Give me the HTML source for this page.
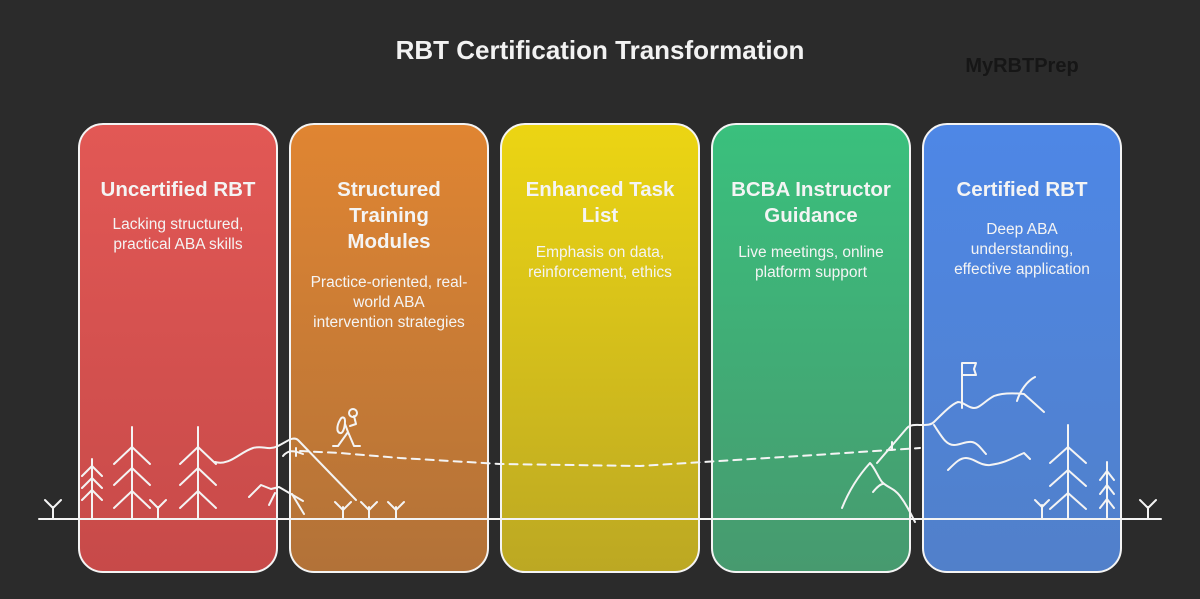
<!DOCTYPE html>
<html><head><meta charset="utf-8"><style>
html,body{margin:0;padding:0;background:#2b2b2b;}
svg{display:block;font-family:"Liberation Sans",Arial,sans-serif;}
</style></head><body>
<svg width="1200" height="599" viewBox="0 0 1200 599" xmlns="http://www.w3.org/2000/svg">
<defs>
<linearGradient id="g1" x1="0" y1="0" x2="0" y2="1"><stop offset="0" stop-color="#e25855"/><stop offset="1" stop-color="#c74a49"/></linearGradient>
<linearGradient id="g2" x1="0" y1="0" x2="0" y2="1"><stop offset="0" stop-color="#e08532"/><stop offset="1" stop-color="#b27238"/></linearGradient>
<linearGradient id="g3" x1="0" y1="0" x2="0" y2="1"><stop offset="0" stop-color="#ecd513"/><stop offset="1" stop-color="#bca823"/></linearGradient>
<linearGradient id="g4" x1="0" y1="0" x2="0" y2="1"><stop offset="0" stop-color="#3ac07d"/><stop offset="1" stop-color="#479a6f"/></linearGradient>
<linearGradient id="g5" x1="0" y1="0" x2="0" y2="1"><stop offset="0" stop-color="#4e87e6"/><stop offset="1" stop-color="#5180ca"/></linearGradient>
</defs>
<rect width="1200" height="599" fill="#2b2b2b"/>
<text x="600" y="59" text-anchor="middle" font-size="26" font-weight="bold" fill="#f2f2f2">RBT Certification Transformation</text>
<text x="1022" y="72" text-anchor="middle" font-size="20" font-weight="bold" fill="#161616">MyRBTPrep</text>

<g stroke="#f4f4f4" stroke-width="2">
<rect x="79" y="124" width="198" height="448" rx="24" fill="url(#g1)"/>
<rect x="290" y="124" width="198" height="448" rx="24" fill="url(#g2)"/>
<rect x="501" y="124" width="198" height="448" rx="24" fill="url(#g3)"/>
<rect x="712" y="124" width="198" height="448" rx="24" fill="url(#g4)"/>
<rect x="923" y="124" width="198" height="448" rx="24" fill="url(#g5)"/>
</g>

<g fill="#f4f4f4" text-anchor="middle">
<g font-size="20.5" font-weight="bold">
<text x="178" y="196">Uncertified RBT</text>
<text x="389" y="196">Structured</text><text x="389" y="222">Training</text><text x="389" y="248">Modules</text>
<text x="600" y="196">Enhanced Task</text><text x="600" y="222">List</text>
<text x="811" y="196">BCBA Instructor</text><text x="811" y="222">Guidance</text>
<text x="1022" y="196">Certified RBT</text>
</g>
<g font-size="15.5">
<text x="178" y="229">Lacking structured,</text><text x="178" y="249">practical ABA skills</text>
<text x="389" y="287">Practice-oriented, real-</text><text x="389" y="307">world ABA</text><text x="389" y="327">intervention strategies</text>
<text x="600" y="257">Emphasis on data,</text><text x="600" y="277">reinforcement, ethics</text>
<text x="811" y="257">Live meetings, online</text><text x="811" y="277">platform support</text>
<text x="1022" y="234">Deep ABA</text><text x="1022" y="254">understanding,</text><text x="1022" y="274">effective application</text>
</g>
</g>

<g stroke="#f4f4f4" stroke-width="2" fill="none" stroke-linecap="round" stroke-linejoin="round">
<line x1="39" y1="519" x2="1161" y2="519"/>
<path d="M53 519v-12M45 500l8 8l8-8"/>
<path d="M158 519v-12M150 500l8 8l8-8"/>
<path d="M343 519v-12M335 502l8 8l8-8"/>
<path d="M369 519v-12M361 502l8 8l8-8"/>
<path d="M396 519v-12M388 502l8 8l8-8"/>
<path d="M1042 519v-14M1035 500l7 7l7-7"/>
<path d="M1148 519v-12M1140 500l8 8l8-8"/>
<path d="M92 519v-60M82 476l10-10l10 10M82 488l10-10l10 10M82 500l10-10l10 10"/>
<path d="M132 519v-92M114 464l18-17l18 17M114 485l18-17l18 17M114 508l18-17l18 17"/>
<path d="M198 519v-92M180 464l18-17l18 17M180 485l18-17l18 17M180 508l18-17l18 17"/>
<path d="M215 462c15 4 25-10 38-14c10-3 15 3 25-2c10-5 15-10 20-6l58 60"/>
<path d="M283 456c5-6 10-6 20-2"/>
<path d="M249 497l12-12l10 4l8-2l24 14"/>
<path d="M269 505l6-12"/>
<path d="M292 494l12 20"/>
<path d="M296 448v8"/>
<circle cx="353" cy="413" r="4"/>
<path d="M345 424l3 8l-10 14h-5M348 432l6 14h6M350 426l6-2l-2-8"/>
<path d="M340 420c-3 5-4 12 0 13c3 1 5-6 5-12c0-4-3-5-5-1z"/>
<path d="M300 451l40 2l60 5l100 6l140 2l160-10l120-8" stroke-dasharray="8 6"/>
<path d="M842 508c8-20 18-34 28-45c5 5 8 14 12 19c6 6 12 6 18 14c6 8 10 16 15 26"/>
<path d="M873 492c4-5 8-8 10-8"/>
<path d="M877 463l30-35c4-4 10-3 15-3c5 0 9 0 12-3c10-10 18-18 24-20c6 0 10 6 16 6c6 0 12-8 20-12c8-3 20-3 30-2l20 18"/>
<path d="M1017 401c3-10 10-20 18-24"/>
<path d="M934 425c8 12 12 20 20 20c6 0 12-4 18-3c6 1 10 8 14 12"/>
<path d="M948 470c8-8 12-12 18-12c8 0 14 8 24 7c16-2 24-8 34-12l6 6"/>
<path d="M962 408v-45h14l-2 6l2 6h-14"/>
<path d="M892 442v8"/>
<path d="M1068 519v-94M1050 463l18-16l18 16M1050 486l18-16l18 16M1050 509l18-16l18 16"/>
<path d="M1107 519v-57M1100 480l7-9l7 9M1100 494l7-9l7 9M1100 508l7-9l7 9"/>
</g>
</svg>
</body></html>
